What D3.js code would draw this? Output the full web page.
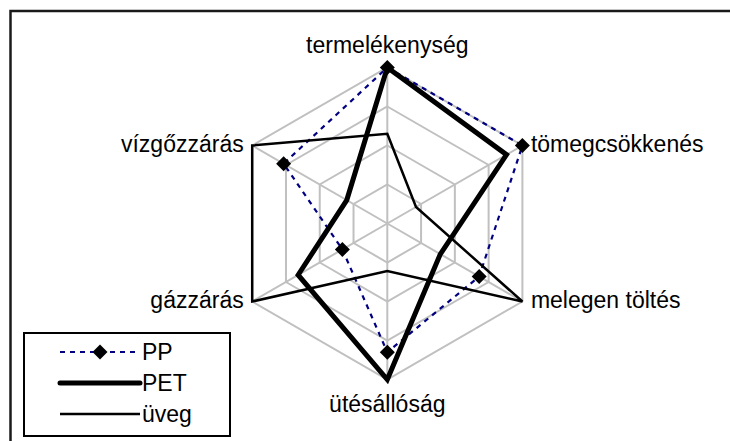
<!DOCTYPE html>
<html>
<head>
<meta charset="utf-8">
<style>
  html, body { margin: 0; padding: 0; background: #fff; }
  svg text { font-family: "Liberation Sans", Arial, sans-serif; fill: #000; }
  .grid { fill: none; stroke: #c0c0c0; stroke-width: 2; }
  .spoke { stroke: #c0c0c0; stroke-width: 2; }
</style>
</head>
<body>
<div id="chart"></div>
<script src="https://d3js.org/d3.v7.min.js"></script>
<script>

var axes = ["termelékenység", "tömegcsökkenés", "melegen töltés", "ütésállóság", "gázzárás", "vízgőzzárás"];
var ppValues = [4, 4, 2.72, 3.3, 1.33, 3.07];
var petValues = [4, 3.53, 1.57, 4, 2.64, 1.2];
var uvegValues = [2.3, 0.85, 4, 1.22, 4, 4];
var gridLevels = [1, 2, 3, 4];
var seriesNames = ["PP", "PET", "üveg"];

var width = 730, height = 441,
    cx = 387.3, cy = 223.5, radius = 156;

var svg = d3.select("#chart").append("svg")
    .attr("width", width)
    .attr("height", height);

// outer frame (runs past the right and bottom edges like the original)
svg.append("rect")
    .attr("x", 10.5).attr("y", 11)
    .attr("width", width + 20).attr("height", height + 20)
    .attr("fill", "none")
    .attr("stroke", "#1a1a1a")
    .attr("stroke-width", 2.5);

var r = d3.scaleLinear().domain([0, 4]).range([0, radius]);
var angle = d3.scalePoint().domain(d3.range(axes.length + 1)).range([0, 2 * Math.PI]);

function pt(i, v) {
  var a = angle(i);
  return [cx + r(v) * Math.sin(a), cy - r(v) * Math.cos(a)];
}

var g = svg.append("g").attr("transform", "translate(" + cx + "," + cy + ")");

var radial = d3.lineRadial()
    .angle(function(d, i) { return angle(i); })
    .radius(function(d) { return r(d); })
    .curve(d3.curveLinearClosed);

// grid rings
g.selectAll(".grid")
    .data(gridLevels)
  .enter().append("path")
    .attr("class", "grid")
    .attr("d", function(l) { return radial(axes.map(function() { return l; })); });

// spokes
g.selectAll(".spoke")
    .data(axes)
  .enter().append("line")
    .attr("class", "spoke")
    .attr("x1", 0).attr("y1", 0)
    .attr("x2", function(d, i) { return r(4) * Math.sin(angle(i)); })
    .attr("y2", function(d, i) { return -r(4) * Math.cos(angle(i)); });

// series
var styles = {
  PP:   { stroke: "#000080", width: 2.2, dash: "5,5" },
  PET:  { stroke: "#000", width: 5, dash: null },
  "üveg": { stroke: "#000", width: 2.5, dash: null }
};
var seriesData = [ppValues, petValues, uvegValues];

seriesData.forEach(function(vals, k) {
  var s = styles[seriesNames[k]];
  g.append("path")
      .attr("d", radial(vals))
      .attr("fill", "none")
      .attr("stroke", s.stroke)
      .attr("stroke-width", s.width)
      .attr("stroke-linejoin", "miter")
      .attr("stroke-dasharray", s.dash);
});

function diamond(h) {
  return "M0," + (-h) + "L" + h + ",0L0," + h + "L" + (-h) + ",0Z";
}

g.selectAll(".marker")
    .data(ppValues)
  .enter().append("path")
    .attr("class", "marker")
    .attr("d", diamond(7.5))
    .attr("fill", "#000")
    .attr("transform", function(d, i) {
      return "translate(" + (r(d) * Math.sin(angle(i))) + "," + (-r(d) * Math.cos(angle(i))) + ")";
    });

// axis labels
var fontSize = 23;
axes.forEach(function(name, i) {
  var p = pt(i, 4), a = angle(i);
  var sx = Math.sin(a), anchor, dx = 0, dy = 0;
  if (Math.abs(sx) < 0.01) {
    anchor = "middle";
    dy = Math.cos(a) > 0 ? -14.5 : 32;
  } else {
    anchor = sx > 0 ? "start" : "end";
    dx = sx > 0 ? 8.5 : -8.5;
    dy = 6.5;
  }
  svg.append("text")
      .attr("x", p[0] + dx)
      .attr("y", p[1] + dy)
      .attr("text-anchor", anchor)
      .style("font-size", fontSize + "px")
      .text(name);
});

// legend
var legend = svg.append("g").attr("transform", "translate(24,333)");
legend.append("rect")
    .attr("width", 206).attr("height", 103)
    .attr("fill", "#fff")
    .attr("stroke", "#000")
    .attr("stroke-width", 2);

var ly = d3.scalePoint().domain(seriesNames).range([19, 81]);

seriesNames.forEach(function(name) {
  var s = styles[name], y = ly(name);
  legend.append("line")
      .attr("x1", 36).attr("x2", 116)
      .attr("y1", y).attr("y2", y)
      .attr("stroke", s.stroke)
      .attr("stroke-width", s.width)
      .attr("stroke-linecap", name === "PET" ? "round" : "butt")
      .attr("stroke-dasharray", s.dash);
  if (name === "PP") {
    legend.append("path")
        .attr("d", diamond(7.5))
        .attr("transform", "translate(76," + y + ")")
        .attr("fill", "#000");
  }
  legend.append("text")
      .attr("x", 118)
      .attr("y", y + 8)
      .style("font-size", fontSize + "px")
      .text(name);
});

</script>
</body>
</html>
